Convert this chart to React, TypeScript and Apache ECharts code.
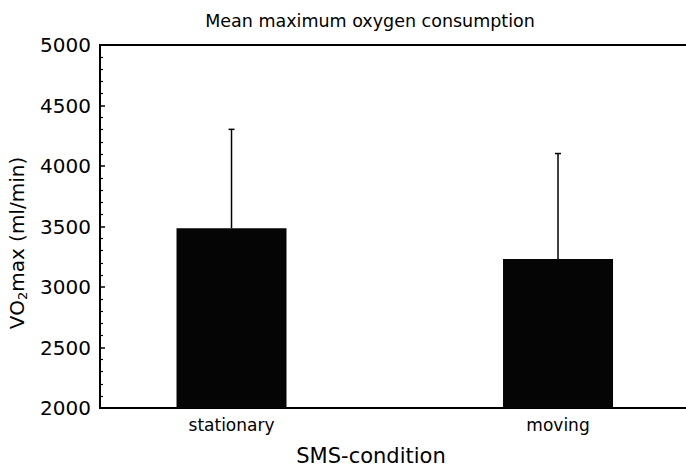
import React, { useEffect, useRef } from "react";
import * as echarts from "echarts";

const categories = ["stationary", "moving"];
const meanValues = [3485, 3232];
const upperValues = [4303, 4103];
const yTicks = [2000, 2500, 3000, 3500, 4000, 4500, 5000];

const FONT = "DejaVu Sans, Liberation Sans, Arial, sans-serif";

export default function App() {
  const ref = useRef<HTMLDivElement>(null);

  useEffect(() => {
    if (!ref.current) return;
    const chart = echarts.init(ref.current, undefined, { renderer: "svg" });
    const barData = categories.map((c, i) => [i + 1, meanValues[i]]);
    const errData = categories.map((c, i) => [i + 1, meanValues[i], upperValues[i]]);

    chart.setOption({
      animation: false,
      backgroundColor: "#fff",
      title: {
        text: "Mean maximum oxygen consumption",
        left: 365,
        top: 7,
        textAlign: "center",
        textStyle: { fontFamily: FONT, fontSize: 17.5, fontWeight: "normal", color: "#000" },
      },
      grid: {
        left: 100,
        top: 45,
        bottom: 64,
        right: -5,
        outerBoundsMode: "none",
        containLabel: false,
        show: true,
        borderColor: "#000",
        borderWidth: 2,
        backgroundColor: "transparent",
      },
      xAxis: {
        type: "value",
        min: 0.5972,
        max: 2.4073,
        name: "SMS-condition",
        nameLocation: "middle",
        nameGap: 37,
        nameTextStyle: { fontFamily: FONT, fontSize: 21, color: "#000", padding: [0, 49, 0, 0] },
        axisLine: { show: true, lineStyle: { color: "#000", width: 2 } },
        axisTick: { show: false },
        splitLine: { show: false },
        axisLabel: {
          customValues: [1, 2],
          margin: 8,
          fontFamily: FONT,
          fontSize: 17,
          color: "#000",
          formatter: (v: number) => {
            const i = Math.round(v) - 1;
            return Math.abs(v - Math.round(v)) < 1e-6 && categories[i] ? categories[i] : "";
          },
        },
      },
      yAxis: {
        type: "value",
        min: yTicks[0],
        max: yTicks[yTicks.length - 1],
        interval: 500,
        name: "VO{sub|2}max (ml/min)",
        nameLocation: "middle",
        nameRotate: 90,
        nameGap: 68,
        nameTextStyle: {
          fontFamily: FONT,
          fontSize: 20,
          lineHeight: 24,
          color: "#000",
          padding: [0, 33, 0, 0],
          rich: {
            sub: { fontFamily: FONT, fontSize: 13, lineHeight: 13, verticalAlign: "bottom", color: "#000" },
          },
        },
        axisLine: { show: true, lineStyle: { color: "#000", width: 2 } },
        axisTick: { show: true, inside: true, length: 5, lineStyle: { color: "#000", width: 1.5 } },
        minorTick: { show: true, splitNumber: 5, length: 3, lineStyle: { color: "#000", width: 1.2 } },
        splitLine: { show: false },
        axisLabel: {
          fontFamily: FONT,
          fontSize: 20,
          color: "#000",
          margin: 9,
          formatter: (v: number) => String(v),
        },
      },
      series: [
        {
          type: "bar",
          data: barData,
          barWidth: 110,
          clip: true,
          itemStyle: { color: "#050505" },
        },
        {
          type: "custom",
          data: errData,
          z: 5,
          renderItem: (params: any, api: any) => {
            const x = api.value(0);
            const m = api.value(1);
            const h = api.value(2);
            const p0 = api.coord([x, m]);
            const p1 = api.coord([x, h]);
            return {
              type: "group",
              children: [
                {
                  type: "line",
                  shape: { x1: p0[0], y1: p0[1], x2: p1[0], y2: p1[1] },
                  style: { stroke: "#000", lineWidth: 1.5 },
                },
                {
                  type: "line",
                  shape: { x1: p1[0] - 3, y1: p1[1], x2: p1[0] + 3, y2: p1[1] },
                  style: { stroke: "#000", lineWidth: 1.5 },
                },
              ],
            };
          },
        },
      ],
    });
    return () => chart.dispose();
  }, []);

  return (
    <div
      ref={ref}
      style={{ position: "fixed", left: 0, top: 0, width: 686, height: 472, background: "#fff" }}
    />
  );
}
